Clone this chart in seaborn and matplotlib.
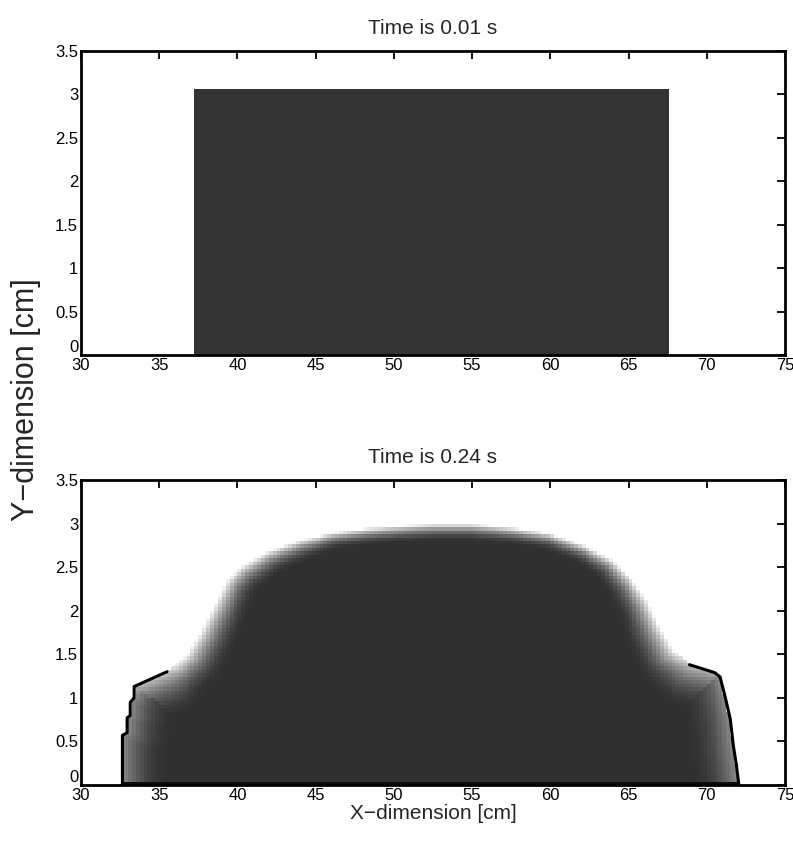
import numpy as np
import matplotlib
matplotlib.use("Agg")
import matplotlib.pyplot as plt
from matplotlib.path import Path
import seaborn as sns

# t = 0.01 s : the initial block of fluid
block_x0 = 37.22
block_x1 = 67.6
block_h = 3.06

# t = 0.24 s : outline of the spreading fluid
surf_x = [32.65, 32.65, 32.95, 32.95, 33.15, 33.15, 33.4, 33.4, 35.5,
          35.9, 36.8, 37.6, 38.45, 39.3, 40.2, 41.9, 44.0, 46.1, 48.3,
          50.4, 52.5, 55.0, 57.5, 60.0, 62.3, 64.0, 65.3, 66.2, 67.0,
          67.9, 68.9, 70.5, 70.85, 71.15, 71.5, 71.7, 71.9, 72.05]
surf_y = [0.0, 0.57, 0.6, 0.77, 0.8, 0.95, 1.0, 1.13, 1.3,
          1.38, 1.51, 1.74, 2.04, 2.35, 2.5, 2.68, 2.81, 2.9, 2.95,
          2.98, 3.0, 3.0, 2.96, 2.89, 2.74, 2.58, 2.35, 2.12, 1.82,
          1.55, 1.38, 1.29, 1.24, 1.03, 0.76, 0.45, 0.22, 0.0]
# grey level right at the outline (0 = white, 1 = black)
surf_edge = [0.45] * 7 + [0.25, 0.2] + [0.0] * 21 + [0.25, 0.3] + [0.45] * 6
# how far (screen px) the light edge reaches into the fluid
surf_fade = [45] * 9 + [42, 40, 38, 36, 34, 30, 26, 22, 18, 18,
                        18, 18, 18, 18, 18, 20, 24, 30, 34, 38,
                        42] + [45] * 8
left_front = slice(0, 9)
right_front = slice(30, 38)

xticks = [30, 35, 40, 45, 50, 55, 60, 65, 70, 75]
yticks = [0, 0.5, 1, 1.5, 2, 2.5, 3, 3.5]
ytick_labels = ["0", "0.5", "1", "1.5", "2", "2.5", "3", "3.5"]
titles = ["Time is 0.01 s", "Time is 0.24 s"]

sns.set_style("white")
plt.rcParams["font.family"] = ["Liberation Sans", "DejaVu Sans"]

fig = plt.figure(figsize=(7.93, 8.43), dpi=100)
ax1 = fig.add_axes([0.1021, 0.5789, 0.8878, 0.3606])
ax2 = fig.add_axes([0.1021, 0.0688, 0.8878, 0.3618])

# top: block
sns.histplot(x=[(block_x0 + block_x1) / 2], weights=[block_h],
             bins=[block_x0, block_x1], color="#333333", alpha=1,
             linewidth=0, ax=ax1)

# bottom: grey field, lighter towards the free surface
dx, dy = 0.25, 0.04
x_edges = np.arange(30, 75 + dx / 2, dx)
y_edges = np.arange(0, 3.5 + dy / 2, dy)
xc = (x_edges[:-1] + x_edges[1:]) / 2
yc = (y_edges[:-1] + y_edges[1:]) / 2
gx, gy = np.meshgrid(xc, yc)
pts = np.column_stack([gx.ravel(), gy.ravel()])
outline = np.column_stack([surf_x, surf_y])
inside = Path(outline).contains_points(pts)

sx, sy = 15.64, 87.1  # pixels per unit, so the fade is even on screen
P = pts * [sx, sy]
A = outline[:-1] * [sx, sy]
B = outline[1:] * [sx, sy]
AB = B - A
AP = P[:, None, :] - A[None, :, :]
t = np.clip((AP * AB).sum(-1) / (AB * AB).sum(-1), 0, 1)
proj = A[None] + t[..., None] * AB[None]
dist = np.linalg.norm(P[:, None, :] - proj, axis=-1)
k = dist.argmin(1)
tk = t[np.arange(len(k)), k]
d = dist.min(1)
edge = np.array(surf_edge, float)
fade = np.array(surf_fade, float)
e = edge[k] * (1 - tk) + edge[k + 1] * tk
w = fade[k] * (1 - tk) + fade[k + 1] * tk
s = np.clip(d / w, 0, 1)
s = s * (2 - s)
dark = e + (0.81 - e) * s
dark[pts[:, 1] < 0.05] = 0.95
dark[~inside] = 0

sns.histplot(x=pts[:, 0], y=pts[:, 1], weights=dark, bins=[x_edges, y_edges],
             cmap="gray_r", vmin=0, vmax=1, ax=ax2)
for sl in (left_front, right_front):
    sns.lineplot(x=surf_x[sl], y=surf_y[sl], sort=False, estimator=None,
                 color="black", lw=2.2, ax=ax2)

for ax, title in zip([ax1, ax2], titles):
    ax.set_xlim(30, 75)
    ax.set_ylim(0, 3.5)
    ax.set_xticks(xticks)
    ax.set_xticklabels([str(v) for v in xticks])
    ax.set_yticks(yticks)
    ax.set_yticklabels(ytick_labels)
    ax.get_yticklabels()[0].set_va("bottom")
    ax.tick_params(direction="in", length=6, width=1.3, top=True, right=True,
                   labelsize=12, pad=2, colors="black")
    for sp in ax.spines.values():
        sp.set_linewidth(2)
        sp.set_color("black")
    ax.set_xlabel("")
    ax.set_ylabel("")
    ax.set_title(title, fontsize=15, pad=12)
    ax.grid(False)

ax2.set_xlabel("X\u2212dimension [cm]", fontsize=15, labelpad=1)
fig.text(26 / 793, 1 - 400 / 843, "Y\u2212dimension [cm]", rotation=90,
         ha="center", va="center", fontsize=22)

fig.savefig("out.png", dpi=100)
